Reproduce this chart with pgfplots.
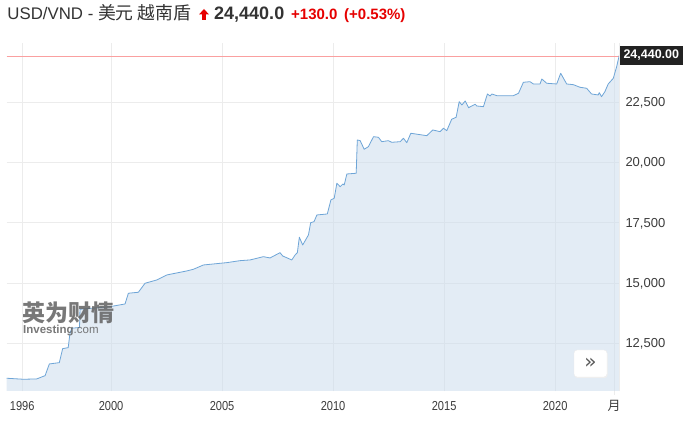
\documentclass[border=0pt]{standalone}
\usepackage{pgfplots}
\pgfplotsset{compat=1.18}
\usepackage{fontspec}
\setmainfont{Liberation Sans}
\newfontfamily\cjk{Noto Sans CJK SC}
\newfontfamily\narrowfont[FakeStretch=0.85]{Liberation Sans}
\newfontfamily\dejavu{DejaVu Sans}
\definecolor{txt}{RGB}{51,51,51}
\definecolor{ticktxt}{RGB}{60,60,60}
\definecolor{upred}{RGB}{230,0,0}
\definecolor{areafill}{RGB}{201,219,236}
\definecolor{lineblue}{RGB}{110,165,215}
\definecolor{gridc}{RGB}{236,236,236}
\definecolor{pinkline}{RGB}{250,160,160}
\definecolor{tagbg}{RGB}{34,34,34}
\begin{document}
\begin{tikzpicture}
\path[use as bounding box, fill=white] (0bp,0bp) rectangle (692bp,429bp);
% title
\node[anchor=base west, inner sep=0, text=txt] at (7.3bp,409.5bp) {\fontsize{16.8bp}{19bp}\selectfont USD/VND - {\cjk\fontsize{17.8bp}{19bp}\selectfont 美元 越南盾}};
\fill[upred] (199bp,414.5bp) -- (204bp,420bp) -- (209bp,414.5bp) -- cycle;
\fill[upred] (202bp,409bp) rectangle (206bp,414.6bp);
\node[anchor=base west, inner sep=0, text=txt] at (214bp,409bp) {\fontsize{18bp}{20bp}\selectfont\bfseries 24,440.0};
\node[anchor=base west, inner sep=0, text=upred] at (291bp,409bp) {\fontsize{15bp}{18bp}\selectfont\bfseries +130.0};
\node[anchor=base west, inner sep=0, text=upred] at (344bp,409bp) {\fontsize{15bp}{18bp}\selectfont\bfseries (+0.53\%)};
\begin{axis}[
  at={(6.7bp,38bp)}, anchor=south west,
  scale only axis, width=612.6bp, height=348bp,
  xmin=1995.30, xmax=2022.89, ymin=10520, ymax=24950,
  clip mode=individual,
  axis line style={draw=none},
  tick style={draw=none},
  grid=major, grid style={color=gridc, line width=0.6bp},
  xtick={1996,2000,2005,2010,2015,2020,2022.66},
  xticklabels={1996,2000,2005,2010,2015,2020,{\cjk 月}},
  xticklabel style={font=\narrowfont\fontsize{13bp}{15bp}\selectfont, text=ticktxt, anchor=base, inner sep=0, yshift=-19bp},
  ytick={12500,15000,17500,20000,22500},
  scaled y ticks=false,
  yticklabel pos=right,
  yticklabel style={font=\fontsize{13bp}{15bp}\selectfont, text=ticktxt, anchor=base west, inner sep=0, xshift=6bp, yshift=-4.6bp},
  /pgf/number format/assume math mode=true,
  /pgf/number format/.cd, 1000 sep={,}, fixed,
]
\addplot[draw=none, fill=areafill, fill opacity=0.5] coordinates {
(1995.30,11049) (1996.05,11007) (1996.65,11020) (1997.03,11157) (1997.22,11642)
(1997.67,11696) (1997.82,12276) (1998.07,12318) (1998.15,12915) (1998.23,13122)
(1998.58,13155) (1998.60,13910) (1999.95,14017) (2000.63,14129) (2000.78,14573)
(2001.23,14614) (2001.53,14988) (2002.06,15124) (2002.51,15332) (2003.41,15498)
(2003.71,15568) (2004.16,15746) (2005.21,15842) (2005.81,15925) (2006.26,15954)
(2006.86,16090) (2007.16,16037) (2007.61,16256) (2007.73,16119) (2008.14,15954)
(2008.29,16161) (2008.39,16256) (2008.48,16895) (2008.63,16575) (2008.89,16990)
(2008.99,17500) (2009.14,17541) (2009.27,17819) (2009.74,17861) (2009.90,18441)
(2010.05,18512) (2010.17,19134) (2010.32,18993) (2010.44,19105) (2010.50,19063)
(2010.62,19519) (2011.04,19548) (2011.09,20929) (2011.22,20900) (2011.40,20543)
(2011.59,20651) (2011.82,21066) (2012.04,21041) (2012.19,20858) (2012.49,20900)
(2012.64,20833) (2013.02,20858) (2013.17,20999) (2013.32,20817) (2013.50,21207)
(2014.22,21107) (2014.49,21344) (2014.82,21273) (2014.97,21414) (2015.12,21314)
(2015.34,21787) (2015.54,21870) (2015.68,22517) (2015.80,22380) (2015.95,22546)
(2016.10,22268) (2016.40,22409) (2016.47,22339) (2016.77,22309) (2016.95,22836)
(2017.07,22753) (2017.15,22836) (2017.38,22766) (2018.12,22766) (2018.35,22865)
(2018.57,23321) (2018.87,23346) (2019.02,23251) (2019.32,23251) (2019.40,23458)
(2019.62,23280) (2020.07,23251) (2020.25,23694) (2020.52,23251) (2020.82,23222)
(2021.12,23114) (2021.42,23072) (2021.64,22836) (2021.94,22795) (2021.99,22890)
(2022.09,22724) (2022.24,22931) (2022.39,23251) (2022.62,23487) (2022.77,23968)
(2022.84,24246) (2022.89,24440)
} \closedcycle;
\addplot[draw=pinkline, line width=1bp, forget plot] coordinates {(1995.30,24370) (2022.89,24370)};
\addplot[lineblue, line width=0.8bp, line join=round] coordinates {
(1995.30,11049) (1996.05,11007) (1996.65,11020) (1997.03,11157) (1997.22,11642)
(1997.67,11696) (1997.82,12276) (1998.07,12318) (1998.15,12915) (1998.23,13122)
(1998.58,13155) (1998.60,13910) (1999.95,14017) (2000.63,14129) (2000.78,14573)
(2001.23,14614) (2001.53,14988) (2002.06,15124) (2002.51,15332) (2003.41,15498)
(2003.71,15568) (2004.16,15746) (2005.21,15842) (2005.81,15925) (2006.26,15954)
(2006.86,16090) (2007.16,16037) (2007.61,16256) (2007.73,16119) (2008.14,15954)
(2008.29,16161) (2008.39,16256) (2008.48,16895) (2008.63,16575) (2008.89,16990)
(2008.99,17500) (2009.14,17541) (2009.27,17819) (2009.74,17861) (2009.90,18441)
(2010.05,18512) (2010.17,19134) (2010.32,18993) (2010.44,19105) (2010.50,19063)
(2010.62,19519) (2011.04,19548) (2011.09,20929) (2011.22,20900) (2011.40,20543)
(2011.59,20651) (2011.82,21066) (2012.04,21041) (2012.19,20858) (2012.49,20900)
(2012.64,20833) (2013.02,20858) (2013.17,20999) (2013.32,20817) (2013.50,21207)
(2014.22,21107) (2014.49,21344) (2014.82,21273) (2014.97,21414) (2015.12,21314)
(2015.34,21787) (2015.54,21870) (2015.68,22517) (2015.80,22380) (2015.95,22546)
(2016.10,22268) (2016.40,22409) (2016.47,22339) (2016.77,22309) (2016.95,22836)
(2017.07,22753) (2017.15,22836) (2017.38,22766) (2018.12,22766) (2018.35,22865)
(2018.57,23321) (2018.87,23346) (2019.02,23251) (2019.32,23251) (2019.40,23458)
(2019.62,23280) (2020.07,23251) (2020.25,23694) (2020.52,23251) (2020.82,23222)
(2021.12,23114) (2021.42,23072) (2021.64,22836) (2021.94,22795) (2021.99,22890)
(2022.09,22724) (2022.24,22931) (2022.39,23251) (2022.62,23487) (2022.77,23968)
(2022.84,24246) (2022.89,24440)
};
\draw[color=gridc, line width=0.8bp] (rel axis cs:1,0) -- (rel axis cs:1,1);
\draw[color=gridc, line width=0.8bp] (axis cs:2022.66,10520) -- ([yshift=-4bp]axis cs:2022.66,10520);
\node[anchor=west, fill=tagbg, text=white, inner xsep=4bp, inner ysep=0bp, minimum height=19bp, font=\fontsize{12.5bp}{14bp}\selectfont\bfseries] at (axis cs:2022.89,24440) {24,440.00};
\end{axis}
% watermark
\node[anchor=base west, inner sep=0, text=black!62, opacity=0.85] at (22.5bp,107bp) {\cjk\fontsize{23bp}{25bp}\selectfont\bfseries 英为财情};
\node[anchor=base west, inner sep=0, text=black!62, opacity=0.85] at (23bp,95.5bp) {\fontsize{11.5bp}{13bp}\selectfont\textbf{Investing}.com};
% button
\fill[black!6, rounded corners=3bp] (574.5bp,51bp) rectangle (607.5bp,78bp);
\filldraw[fill=white, draw=black!8, rounded corners=3bp] (574bp,52bp) rectangle (607bp,79bp);
\node[text=black!65, inner sep=0] at (590.5bp,66bp) {\dejavu\fontsize{20bp}{22bp}\selectfont »};
\end{tikzpicture}
\end{document}
